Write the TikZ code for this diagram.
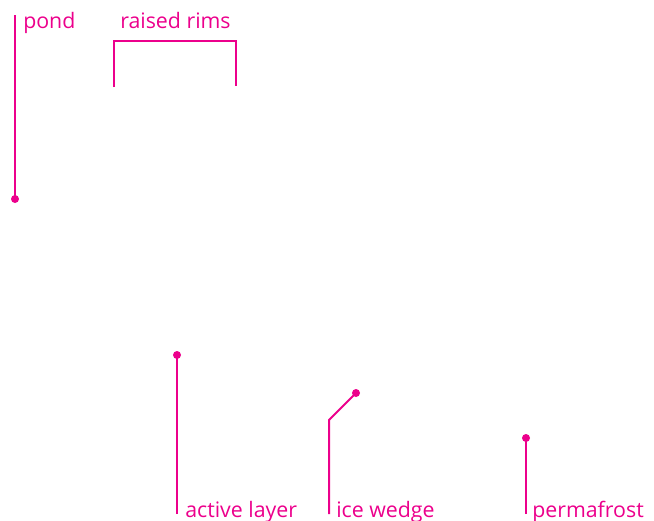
\documentclass[tikz,border=0pt]{standalone}
\usepackage{fontspec}
\setmainfont{Open Sans}
\usetikzlibrary{positioning}
\definecolor{callout}{HTML}{EC008C}
\tikzset{lbl/.style={text=callout,anchor=base west,inner sep=0pt,font=\fontsize{16}{19}\selectfont},
  lead/.style={draw=callout,line width=1.5pt},
  tipdot/.style={fill=callout}}

\begin{document}
\begin{tikzpicture}[x=0.75pt,y=-0.75pt]
\useasboundingbox (0,0) rectangle (654,521);
% labels
\node[lbl] (pond) at (23,28) {pond};
\node[lbl] (rims) at (120,28) {raised rims};
\node[lbl] (active) at (185,517) {active layer};
\node[lbl] (wedge) at (336,517) {ice wedge};
\node[lbl] (perma) at (532,517) {permafrost};
% leader ends
\coordinate (pondtop) at (15,15);
\coordinate (ponddot) at (15,199);
\coordinate (rimsL) at (114,87);
\coordinate (rimsR) at (236,86);
\coordinate (activedot) at (177,355);
\coordinate (activefoot) at (177,514);
\coordinate (wedgedot) at (356,393);
\coordinate (wedgebend) at (329,420);
\coordinate (wedgefoot) at (329,514);
\coordinate (permadot) at (526,438);
\coordinate (permafoot) at (526,514);
% leaders
\draw[lead] (pondtop) -- (ponddot);
\draw[lead] (rimsL) |- (175,41) -| (rimsR);
\draw[lead] (activefoot) -- (activedot);
\draw[lead] (wedgefoot) -- (wedgebend) -- (wedgedot);
\draw[lead] (permafoot) -- (permadot);
% dots
\foreach \d in {ponddot,activedot,wedgedot,permadot}{\fill[tipdot] (\d) circle[radius=3pt];}
\end{tikzpicture}
\end{document}
